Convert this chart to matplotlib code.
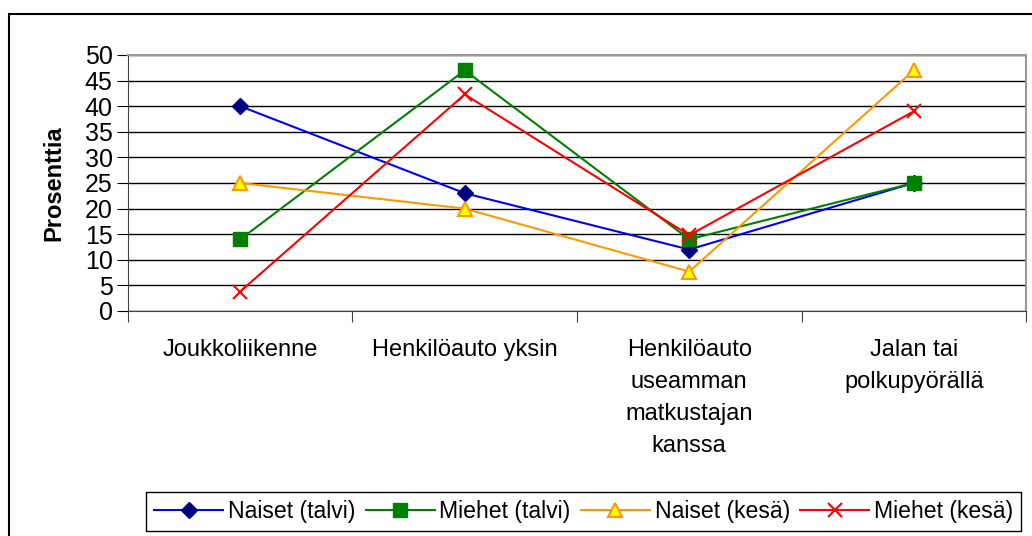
"""
Kulkumuodot: naiset ja miehet, talvi ja kesä
"""

import matplotlib.pyplot as plt
from matplotlib.patches import Rectangle

plt.rcParams['font.family'] = ['Liberation Sans', 'DejaVu Sans']

# luokat ja arvot (prosenttia)
categories = ['Joukkoliikenne', 'Henkilöauto yksin',
              'Henkilöauto\nuseamman\nmatkustajan\nkanssa',
              'Jalan tai\npolkupyörällä']
naiset_talvi = [40, 23, 12, 25]
miehet_talvi = [14, 47, 14, 25]
naiset_kesa = [25, 20, 7.7, 47]
miehet_kesa = [3.8, 42.3, 14.8, 39]

fig = plt.figure(figsize=(10.32, 5.36), dpi=100)
ax = fig.add_axes([0.124, 0.4198, 0.8702, 0.4776])

x = range(len(categories))
ax.plot(x, naiset_talvi, color='#0000FF', lw=1.5, marker='D', ms=8,
        mfc='#000080', mec='#000080', label='Naiset (talvi)', zorder=3)
ax.plot(x, miehet_talvi, color='#008000', lw=1.5, marker='s', ms=10,
        mfc='#008000', mec='#008000', label='Miehet (talvi)', zorder=3)
ax.plot(x, naiset_kesa, color='#FF9900', lw=1.5, marker='^', ms=10,
        mfc='#FFFF00', mec='#FF9900', mew=1.5, label='Naiset (kesä)', zorder=3)
ax.plot(x, miehet_kesa, color='#FF0000', lw=1.5, marker='x', ms=10,
        mew=1.5, label='Miehet (kesä)', zorder=3)

ax.set_xlim(-0.5, 3.5)
ax.set_ylim(0, 50)
ax.set_yticks(range(0, 51, 5))
ax.yaxis.grid(True, color='black', lw=1)
ax.set_axisbelow(True)

# tikit luokkien rajoille
ax.set_xticks([-0.5, 0.5, 1.5, 2.5, 3.5])
ax.set_xticklabels([])
ax.set_xticks(list(x), minor=True)
ax.set_xticklabels(categories, minor=True, fontsize=17, linespacing=1.6)
ax.tick_params(axis='x', which='minor', length=0, pad=20)
ax.tick_params(axis='x', which='major', length=8, direction='out', color='#404040')
ax.tick_params(axis='y', length=8, direction='out', labelsize=18, pad=3)

for side in ['top', 'right']:
    ax.spines[side].set_color('#999999')
    ax.spines[side].set_linewidth(1.5)
for side in ['left', 'bottom']:
    ax.spines[side].set_color('#404040')

ax.set_ylabel('Prosenttia', fontsize=17, fontweight='bold', labelpad=14)

leg = fig.legend(loc='center', bbox_to_anchor=(0.5655, 0.046), ncol=4,
                 fancybox=False, edgecolor='black', framealpha=1,
                 prop={'size': 16.6},
                 handlelength=3, columnspacing=0.45, handletextpad=0.2,
                 borderpad=0.35)
leg.get_frame().set_linewidth(1)

# ulkokehys
fig.patches.append(Rectangle((9 / 1032, -0.1), 2, 1.0739, transform=fig.transFigure,
                             fill=False, edgecolor='black', lw=1.5))

fig.savefig('out.png', dpi=100)
